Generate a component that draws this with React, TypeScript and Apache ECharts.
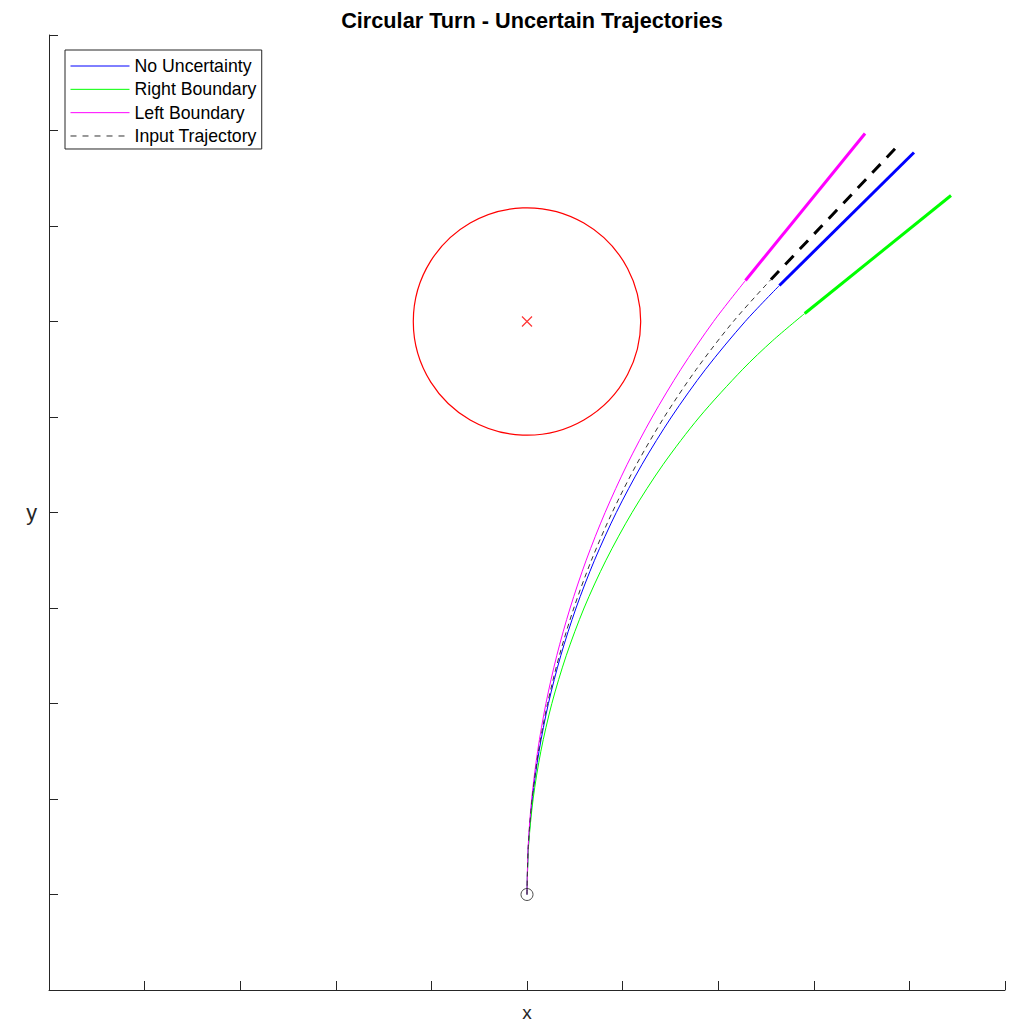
import React, { useEffect, useRef } from "react";
import * as echarts from "echarts";

// Axis ranges (no tick labels in the reference)
const xRange = [-5, 5];
const yRange = [-1, 9];

// Curved (turn) part and straight (exit) part of each trajectory
const blueTurn: [number, number][] = [
  [0, 0], [0.014, 0.5], [0.056, 1], [0.126, 1.5], [0.224, 2], [0.353, 2.5],
  [0.513, 3], [0.706, 3.5], [0.934, 4], [1.201, 4.5], [1.511, 5], [1.868, 5.5],
  [2.282, 6], [2.64, 6.377],
];
const blueExit: [number, number][] = [[2.64, 6.377], [4.048, 7.77]];

const greenTurn: [number, number][] = [
  [0, 0], [0.016, 0.5], [0.064, 1], [0.145, 1.5], [0.26, 2], [0.41, 2.5],
  [0.597, 3], [0.826, 3.5], [1.099, 4], [1.422, 4.5], [1.804, 5], [2.257, 5.5],
  [2.57, 5.8], [2.905, 6.084],
];
const greenExit: [number, number][] = [[2.905, 6.084], [4.435, 7.319]];

const magentaTurn: [number, number][] = [
  [0, 0], [0.012, 0.5], [0.049, 1], [0.111, 1.5], [0.198, 2], [0.311, 2.5],
  [0.451, 3], [0.619, 3.5], [0.817, 4], [1.046, 4.5], [1.31, 5], [1.61, 5.5],
  [1.951, 6], [2.285, 6.429],
];
const magentaExit: [number, number][] = [[2.285, 6.429], [3.536, 7.969]];

const inputTurn: [number, number][] = [
  [0, 0], [0.013, 0.5], [0.053, 1], [0.12, 1.5], [0.215, 2], [0.338, 2.5],
  [0.49, 3], [0.674, 3.5], [0.891, 4], [1.144, 4.5], [1.436, 5], [1.772, 5.5],
  [2.158, 6], [2.552, 6.44],
];
const inputExit: [number, number][] = [[2.552, 6.44], [3.902, 7.864]];

// Obstacle: [centerX, centerY, radius]
const obstacle: [number, number, number][] = [[0, 6, 1.19]];
const startPoint: [number, number][] = [[0, 0]];

const legendNames = ["No Uncertainty", "Right Boundary", "Left Boundary", "Input Trajectory"];

const FONT = "'Liberation Sans', Arial, Helvetica, sans-serif";

function line(name: string, data: [number, number][], color: string, width: number, type: any) {
  return {
    name,
    type: "line",
    data,
    symbol: "none",
    smooth: 0.3,
    lineStyle: { color, width, type, cap: "butt" },
    itemStyle: { color },
    emphasis: { disabled: true },
    z: 2,
  };
}

export default function App() {
  const ref = useRef<HTMLDivElement>(null);
  useEffect(() => {
    const chart = echarts.init(ref.current!, null, { renderer: "svg" });
    const axisColor = "#262626";
    chart.setOption({
      animation: false,
      backgroundColor: "#ffffff",
      title: {
        text: "Circular Turn - Uncertain Trajectories",
        left: 527,
        top: 4,
        padding: 5,
        textAlign: "center",
        textStyle: { fontFamily: FONT, fontSize: 21.7, fontWeight: "bold", color: "#000" },
      },
      legend: {
        orient: "vertical",
        left: 65,
        top: 50,
        padding: [7, 5, 4, 5],
        itemWidth: 59,
        itemHeight: 18,
        itemGap: 5.33,
        borderColor: axisColor,
        borderWidth: 1,
        backgroundColor: "#ffffff",
        selectedMode: false,
        itemStyle: { opacity: 0 },
        lineStyle: { width: 1 },
        textStyle: { fontFamily: FONT, fontSize: 17.7, color: "#000", lineHeight: 18 },
        data: [
          { name: legendNames[0] },
          { name: legendNames[1] },
          { name: legendNames[2] },
          { name: legendNames[3], lineStyle: { type: [6, 6], width: 1 } },
        ],
      },
      grid: { left: 49, right: 10, top: 35, bottom: 33, containLabel: false, outerBoundsMode: "none" },
      xAxis: {
        type: "value",
        min: xRange[0],
        max: xRange[1],
        interval: 1,
        name: "x",
        nameLocation: "middle",
        nameGap: 12.5,
        nameTextStyle: { fontFamily: FONT, fontSize: 19, lineHeight: 19, color: "#262626" },
        axisLine: { show: true, onZero: false, lineStyle: { color: axisColor, width: 1 } },
        axisTick: { show: true, inside: true, length: 9, lineStyle: { color: axisColor } },
        axisLabel: { show: false },
        splitLine: { show: false },
      },
      yAxis: {
        type: "value",
        min: yRange[0],
        max: yRange[1],
        interval: 1,
        name: "y",
        nameLocation: "middle",
        nameGap: 12,
        nameRotate: 0,
        nameTextStyle: { fontFamily: FONT, fontSize: 21.7, color: "#262626" },
        axisLine: { show: true, onZero: false, lineStyle: { color: axisColor, width: 1 } },
        axisTick: { show: true, inside: true, length: 9, lineStyle: { color: axisColor } },
        axisLabel: { show: false },
        splitLine: { show: false },
      },
      series: [
        {
          name: "Obstacle",
          type: "custom",
          coordinateSystem: "cartesian2d",
          data: obstacle,
          encode: { x: 0, y: 1 },
          renderItem: (params: any, api: any) => {
            const c = api.coord([api.value(0), api.value(1)]);
            const s = api.size([api.value(2), api.value(2)]);
            return {
              type: "circle",
              shape: { cx: c[0], cy: c[1], r: (s[0] + s[1]) / 2 },
              style: { fill: "none", stroke: "#FF0000", lineWidth: 1.2 },
            };
          },
          z: 1,
        },
        {
          name: "Obstacle Center",
          type: "scatter",
          data: [[obstacle[0][0], obstacle[0][1]]],
          symbol: "path://M0,0L10,10M10,0L0,10",
          symbolSize: 10,
          itemStyle: { color: "none", borderColor: "#FF0000", borderWidth: 1.2 },
          emphasis: { disabled: true },
          z: 1,
        },
        line(legendNames[0], blueTurn, "#0000FF", 1, "solid"),
        line(legendNames[1], greenTurn, "#00FF00", 1, "solid"),
        line(legendNames[2], magentaTurn, "#FF00FF", 1, "solid"),
        line(legendNames[3], inputTurn, "#333333", 1, [5, 4]),
        line("No Uncertainty exit", blueExit, "#0000FF", 3, "solid"),
        line("Right Boundary exit", greenExit, "#00FF00", 3, "solid"),
        line("Left Boundary exit", magentaExit, "#FF00FF", 3, "solid"),
        line("Input Trajectory exit", inputExit, "#000000", 3, [12, 9]),
        {
          name: "Start",
          type: "scatter",
          data: startPoint,
          symbol: "circle",
          symbolSize: 12,
          itemStyle: { color: "rgba(0,0,0,0)", borderColor: "#222222", borderWidth: 1 },
          emphasis: { disabled: true },
          z: 3,
        },
      ],
    });
    return () => chart.dispose();
  }, []);
  return (
    <div
      ref={ref}
      style={{ position: "fixed", left: 0, top: 0, width: 1015, height: 1023, background: "#fff" }}
    />
  );
}
